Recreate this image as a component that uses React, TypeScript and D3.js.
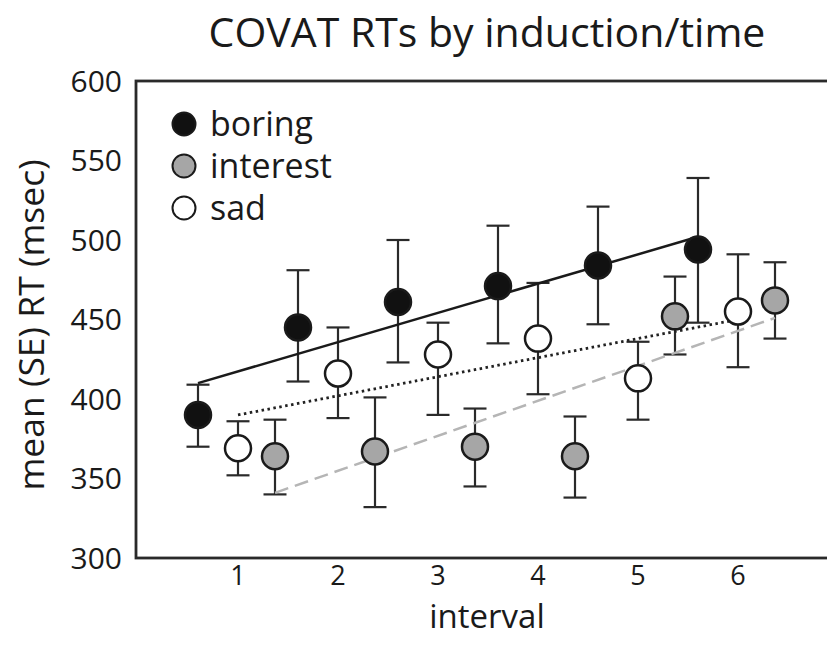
import React from "react";
import * as d3 from "d3";

const intervals = [1, 2, 3, 4, 5, 6];
const yTicks = [300, 350, 400, 450, 500, 550, 600];

const boringMean = [390, 445, 461, 471, 484, 494];
const boringHi = [409, 481, 500, 509, 521, 539];
const boringLo = [370, 411, 423, 435, 447, 448];

const interestMean = [364, 367, 370, 364, 452, 462];
const interestHi = [387, 401, 394, 389, 477, 486];
const interestLo = [340, 332, 345, 338, 428, 438];

const sadMean = [369, 416, 428, 438, 413, 455];
const sadHi = [386, 445, 448, 473, 436, 491];
const sadLo = [352, 388, 390, 403, 387, 420];

// trend line end values (interval 1 -> interval 6)
const boringTrend = [410, 502];
const interestTrend = [341, 451];
const sadTrend = [390, 450];

const seriesNames = ["boring", "interest", "sad"];

const W = 827;
const H = 657;
const FONT = "'Open Sans', 'Noto Sans', sans-serif";

export default function App() {
  const left = 136;
  const top = 81;
  const bottom = 558;
  const right = 830;

  const x = d3.scaleLinear().domain([1, 6]).range([238, 738]);
  const y = d3.scaleLinear().domain([300, 600]).range([bottom, top]);

  const series = [
    { name: "boring", mean: boringMean, hi: boringHi, lo: boringLo, off: -40, fill: "#111", trend: boringTrend, dash: "", tw: 2.5, tColor: "#1a1a1a" },
    { name: "sad", mean: sadMean, hi: sadHi, lo: sadLo, off: 0, fill: "#fff", trend: sadTrend, dash: "2.5,3.5", tw: 2.8, tColor: "#222" },
    { name: "interest", mean: interestMean, hi: interestHi, lo: interestLo, off: 37, fill: "#a6a6a6", trend: interestTrend, dash: "14,7", tw: 2.5, tColor: "#b5b5b5" },
  ];

  const line = d3.line<[number, number]>().x((d) => d[0]).y((d) => d[1]);
  const r = 13;
  const cap = 11.5;

  const legendFill: Record<string, string> = { boring: "#111", interest: "#a6a6a6", sad: "#fff" };

  return (
    <svg width={W} height={H} style={{ position: "absolute", left: 0, top: 0, background: "#fff" }} fontFamily={FONT}>
      <rect x={0} y={0} width={W} height={H} fill="#fff" />
      <text x={487} y={47} textAnchor="middle" fontSize={41} fill="#1a1a1a">
        COVAT RTs by induction/time
      </text>
      {/* frame */}
      <rect x={left} y={top} width={right - left} height={bottom - top} fill="none" stroke="#2a2a2a" strokeWidth={2.8} />
      {/* y ticks */}
      {yTicks.map((t) => (
        <text key={t} x={122} y={y(t)} dy="0.35em" textAnchor="end" fontSize={30} fill="#1a1a1a">
          {t}
        </text>
      ))}
      {intervals.map((t) => (
        <text key={t} x={x(t)} y={585} textAnchor="middle" fontSize={27} fill="#1a1a1a">
          {t}
        </text>
      ))}
      <text x={487} y={628} textAnchor="middle" fontSize={33} fill="#1a1a1a">
        interval
      </text>
      <text transform={`translate(44,325) rotate(-90)`} textAnchor="middle" fontSize={35.5} fill="#1a1a1a">
        mean (SE) RT (msec)
      </text>

      {/* error bars */}
      {series.map((s) =>
        intervals.map((iv, i) => {
          const cx = x(iv) + s.off;
          return (
            <g key={s.name + iv} stroke="#2a2a2a" strokeWidth={2.2}>
              <line x1={cx} x2={cx} y1={y(s.hi[i])} y2={y(s.lo[i])} />
              <line x1={cx - cap} x2={cx + cap} y1={y(s.hi[i])} y2={y(s.hi[i])} />
              <line x1={cx - cap} x2={cx + cap} y1={y(s.lo[i])} y2={y(s.lo[i])} />
            </g>
          );
        })
      )}
      {/* trend lines */}
      {series.map((s) => (
        <path
          key={"t" + s.name}
          d={line([
            [x(1) + s.off, y(s.trend[0])],
            [x(6) + s.off, y(s.trend[1])],
          ]) || ""}
          fill="none"
          stroke={s.tColor}
          strokeWidth={s.tw}
          strokeDasharray={s.dash || undefined}
        />
      ))}
      {/* points */}
      {series.map((s) =>
        intervals.map((iv, i) => (
          <circle key={"c" + s.name + iv} cx={x(iv) + s.off} cy={y(s.mean[i])} r={r} fill={s.fill} stroke="#1a1a1a" strokeWidth={2.5} />
        ))
      )}
      {/* legend */}
      {seriesNames.map((n, i) => (
        <g key={"l" + n} transform={`translate(0,${124 + i * 42})`}>
          <circle cx={184} cy={0} r={11.5} fill={legendFill[n]} stroke="#1a1a1a" strokeWidth={2} />
          <text x={210} y={0} dy="0.35em" fontSize={34} fill="#1a1a1a">
            {n}
          </text>
        </g>
      ))}
    </svg>
  );
}
